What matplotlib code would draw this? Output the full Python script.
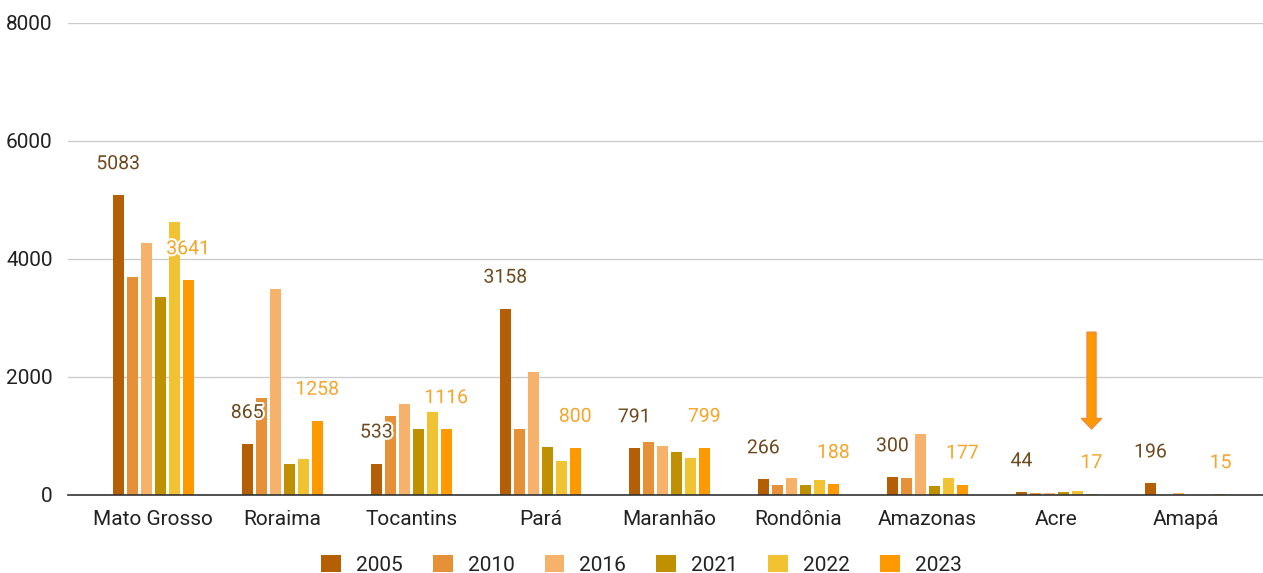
import matplotlib.pyplot as plt
import matplotlib.patheffects as pe
from matplotlib.patches import Patch
import numpy as np

plt.rcParams['font.family'] = ['Roboto', 'DejaVu Sans']

states = ['Mato Grosso', 'Roraima', 'Tocantins', 'Pará', 'Maranhão',
          'Rondônia', 'Amazonas', 'Acre', 'Amapá']
years = ['2005', '2010', '2016', '2021', '2022', '2023']

v2005 = [5083, 865, 533, 3158, 791, 266, 300, 44, 196]
v2010 = [3700, 1640, 1340, 1115, 895, 170, 290, 40, 0]
v2016 = [4270, 3490, 1545, 2085, 830, 288, 1035, 40, 30]
v2021 = [3355, 525, 1115, 810, 730, 170, 150, 45, 0]
v2022 = [4625, 610, 1405, 575, 625, 255, 288, 70, 0]
v2023 = [3641, 1258, 1116, 800, 799, 188, 177, 17, 15]

series = [v2005, v2010, v2016, v2021, v2022, v2023]
colors = ['#b45f06', '#e69138', '#f6b26b', '#bf9000', '#f1c232', '#ff9900']
label_colors = {0: '#6e4a1f', 5: '#f5a52a'}

fig = plt.figure(figsize=(12.63, 5.73), dpi=100)
ax = fig.add_axes([68 / 1263, 1 - 495 / 573, 1195 / 1263, 472 / 573])

x = np.arange(len(states))
step = 0.1085
width = 0.083
px = 8000 / 472  # data units per pixel

for i, vals in enumerate(series):
    xs = x + (i - 2.5) * step
    ax.bar(xs, vals, width=width, color=colors[i], zorder=2)
    if i in label_colors:
        for xi, v in zip(xs, vals):
            ax.text(xi, v + 31 * px, str(v), ha='center', va='center',
                    fontsize=14, color=label_colors[i], zorder=4,
                    path_effects=[pe.withStroke(linewidth=3, foreground='white')])

# arrow pointing at Acre 2023
ax_x = x[7] + 2.5 * step
ax.annotate('', xy=(ax_x, 1120), xytext=(ax_x, 2760),
            arrowprops=dict(arrowstyle='simple,head_length=0.75,head_width=1.45,tail_width=0.65',
                            fc='#ff9900', ec='#f08a3c', lw=1, shrinkA=0, shrinkB=0),
            zorder=5)

ax.set_xlim(-0.66, 8.6)
ax.set_ylim(0, 8000)
ax.set_yticks([0, 2000, 4000, 6000, 8000])
ax.set_xticks(x)
ax.set_xticklabels(states)
ax.tick_params(axis='both', length=0, labelsize=15, labelcolor='#222222')
ax.tick_params(axis='x', pad=11)
ax.tick_params(axis='y', pad=11)
ax.grid(axis='y', color='#cccccc', linewidth=1, zorder=0)
for s in ['top', 'right', 'left']:
    ax.spines[s].set_visible(False)
ax.spines['bottom'].set_color('#333333')
ax.spines['bottom'].set_linewidth(1.2)
ax.spines['bottom'].set_zorder(3)

handles = [Patch(facecolor=c, label=y) for c, y in zip(colors, years)]
fig.legend(handles=handles, loc='center',
           bbox_to_anchor=(0.5 + 10 / 1263, 1 - 565 / 573),
           ncol=6, frameon=False, fontsize=15, handlelength=0.95,
           handleheight=0.85, handletextpad=0.72, columnspacing=1.45,
           labelcolor='#222222', borderpad=0)

fig.savefig('out.png', dpi=100)
